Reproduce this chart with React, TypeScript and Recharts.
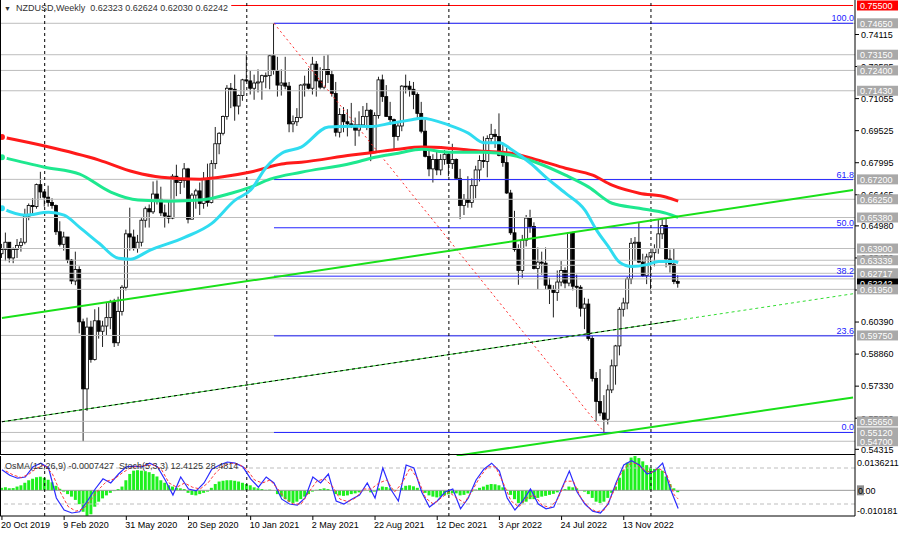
import React from 'react';
import { ComposedChart, Bar, Line, XAxis, YAxis, ReferenceLine } from 'recharts';

const FONT = '"Liberation Sans", Arial, sans-serif';
const CHART_W = 900;
const MAIN_H = 456;
const SUB_H = 79;
const AXIS_W = 45;
const PLOT_RIGHT = CHART_W - AXIS_W;

// weekly bars, the first one opens on Sunday 20 Oct 2019
const FIRST_WEEK = Date.UTC(2019, 9, 20);
const SLOTS = 220;
const MONTHS = ['Jan', 'Feb', 'Mar', 'Apr', 'May', 'Jun', 'Jul', 'Aug', 'Sep', 'Oct', 'Nov', 'Dec'];

const FIRST_OPEN = 0.6365;
const CLOSES = [
  0.6385, 0.6420, 0.6345, 0.6385, 0.6405, 0.6420, 0.6545, 0.6595, 0.6590, 0.6695,
  0.6660, 0.6635, 0.6610, 0.6595, 0.6470, 0.6410, 0.6445, 0.6335, 0.6235, 0.6290,
  0.6040, 0.5720, 0.6015, 0.5860, 0.6045, 0.5995, 0.6020, 0.6060, 0.6135, 0.5940,
  0.6090, 0.6205, 0.6460, 0.6445, 0.6390, 0.6420, 0.6525, 0.6580, 0.6565, 0.6650,
  0.6625, 0.6560, 0.6545, 0.6535, 0.6735, 0.6705, 0.6715, 0.6770, 0.6530, 0.6645,
  0.6665, 0.6605, 0.6720, 0.6610, 0.6795, 0.6890, 0.6940, 0.7020, 0.7155, 0.7150,
  0.7070, 0.7120, 0.7195, 0.7190, 0.7155, 0.7180, 0.7185, 0.7215, 0.7215, 0.7310,
  0.7240, 0.7170, 0.7180, 0.7165, 0.6985, 0.6995, 0.7015, 0.7170, 0.7175, 0.7155,
  0.7270, 0.7190, 0.7160, 0.7245, 0.7220, 0.7130, 0.6945, 0.7030, 0.6995, 0.6985,
  0.6980, 0.6955, 0.6980, 0.7020, 0.7050, 0.6850, 0.7025, 0.7195, 0.7115, 0.7020,
  0.7005, 0.6925, 0.6975, 0.7165, 0.7165, 0.7150, 0.7125, 0.7035, 0.6950, 0.6830,
  0.6770, 0.6815, 0.6765, 0.6815, 0.6840, 0.6795, 0.6815, 0.6725, 0.6595, 0.6625,
  0.6610, 0.6690, 0.6765, 0.6810, 0.6805, 0.6915, 0.6935, 0.6925, 0.6835, 0.6800,
  0.6655, 0.6465, 0.6385, 0.6285, 0.6430, 0.6535, 0.6495, 0.6295, 0.6325, 0.6320,
  0.6215, 0.6195, 0.6180, 0.6230, 0.6285, 0.6225, 0.6465, 0.6210, 0.6205, 0.6105,
  0.6125, 0.5960, 0.5770, 0.5660, 0.5605, 0.5575, 0.5715, 0.5830, 0.5925, 0.6100,
  0.6130, 0.6245, 0.6415, 0.6420, 0.6325, 0.6260, 0.6350, 0.6370, 0.6390, 0.6460,
  0.6500, 0.6340, 0.6315, 0.62323, 0.62242,
];
const HIGHS = [
  0.6412, 0.6466, 0.6420, 0.6395, 0.6435, 0.6440, 0.6580, 0.6605, 0.6630, 0.6700,
  0.6756, 0.6665, 0.6690, 0.6630, 0.6600, 0.6520, 0.6470, 0.6445, 0.6340, 0.6375,
  0.6305, 0.6055, 0.6060, 0.6045, 0.6100, 0.6110, 0.6045, 0.6130, 0.6145, 0.6150,
  0.6160, 0.6215, 0.6480, 0.6585, 0.6480, 0.6455, 0.6535, 0.6590, 0.6600, 0.6710,
  0.6715, 0.6685, 0.6600, 0.6615, 0.6745, 0.6790, 0.6725, 0.6798, 0.6775, 0.6655,
  0.6675, 0.6705, 0.6755, 0.6795, 0.6812, 0.6970, 0.6945, 0.7025, 0.7170, 0.7180,
  0.7220, 0.7125, 0.7200, 0.7315, 0.7240, 0.7220, 0.7245, 0.7220, 0.7230, 0.7315,
  0.7465, 0.7305, 0.7245, 0.7305, 0.7185, 0.7025, 0.7060, 0.7175, 0.7215, 0.7250,
  0.7305, 0.7285, 0.7255, 0.7310, 0.7315, 0.7240, 0.7185, 0.7060, 0.7065, 0.7055,
  0.7085, 0.7015, 0.7045, 0.7070, 0.7085, 0.7055, 0.7040, 0.7210, 0.7220, 0.7170,
  0.7090, 0.7010, 0.6990, 0.7170, 0.7220, 0.7190, 0.7185, 0.7135, 0.7090, 0.7005,
  0.6860, 0.6840, 0.6855, 0.6840, 0.6860, 0.6855, 0.6890, 0.6820, 0.6770, 0.6650,
  0.6735, 0.6725, 0.6785, 0.6835, 0.6925, 0.6930, 0.6985, 0.6960, 0.7035, 0.6885,
  0.6870, 0.6670, 0.6570, 0.6410, 0.6455, 0.6550, 0.6575, 0.6515, 0.6395, 0.6375,
  0.6395, 0.6250, 0.6215, 0.6285, 0.6330, 0.6300, 0.6468, 0.6470, 0.6265, 0.6215,
  0.6155, 0.6150, 0.5975, 0.5800, 0.5815, 0.5690, 0.5740, 0.5860, 0.5930, 0.6110,
  0.6155, 0.6255, 0.6440, 0.6445, 0.6515, 0.6365, 0.6365, 0.6370, 0.6410, 0.6530,
  0.6530, 0.6538, 0.6385, 0.6390, 0.62624,
];
const LOWS = [
  0.6345, 0.6330, 0.6323, 0.6320, 0.6345, 0.6375, 0.6410, 0.6525, 0.6550, 0.6580,
  0.6630, 0.6590, 0.6590, 0.6580, 0.6455, 0.6400, 0.6380, 0.6320, 0.6220, 0.6215,
  0.5985, 0.5470, 0.5615, 0.5845, 0.5855, 0.5960, 0.5920, 0.5975, 0.6005, 0.5920,
  0.5925, 0.6070, 0.6190, 0.6380, 0.6380, 0.6370, 0.6400, 0.6490, 0.6490, 0.6555,
  0.6600, 0.6545, 0.6490, 0.6510, 0.6530, 0.6640, 0.6650, 0.6680, 0.6510, 0.6530,
  0.6580, 0.6550, 0.6580, 0.6590, 0.6605, 0.6770, 0.6840, 0.6930, 0.7005, 0.7060,
  0.7000, 0.7030, 0.7095, 0.7185, 0.7125, 0.7100, 0.7135, 0.7100, 0.7155, 0.7150,
  0.7220, 0.7115, 0.7120, 0.7150, 0.6945, 0.6945, 0.6975, 0.7010, 0.7115, 0.7150,
  0.7125, 0.7115, 0.7150, 0.7150, 0.7180, 0.7115, 0.6925, 0.6920, 0.6945, 0.6925,
  0.6965, 0.6880, 0.6925, 0.6970, 0.6955, 0.6807, 0.6850, 0.7010, 0.7090, 0.7020,
  0.6980, 0.6860, 0.6905, 0.6950, 0.7130, 0.7115, 0.7055, 0.7010, 0.6940, 0.6825,
  0.6735, 0.6705, 0.6740, 0.6740, 0.6790, 0.6735, 0.6770, 0.6720, 0.6530, 0.6550,
  0.6585, 0.6585, 0.6630, 0.6710, 0.6775, 0.6730, 0.6895, 0.6870, 0.6830, 0.6780,
  0.6650, 0.6455, 0.6375, 0.6217, 0.6250, 0.6400, 0.6465, 0.6290, 0.6195, 0.6265,
  0.6195, 0.6125, 0.6061, 0.6140, 0.6210, 0.6200, 0.6210, 0.6190, 0.6110, 0.6065,
  0.6005, 0.5950, 0.5755, 0.5565, 0.5590, 0.5512, 0.5550, 0.5700, 0.5740, 0.5880,
  0.6065, 0.6100, 0.6220, 0.6330, 0.6320, 0.6255, 0.6220, 0.6190, 0.6305, 0.6365,
  0.6435, 0.6300, 0.6275, 0.6220, 0.62030,
];

// moving averages at a few bars: [bar, price]
const MA_CYAN = [
  [0, 0.6582], [6, 0.6549], [12, 0.6563], [16, 0.6549], [20, 0.6491], [25, 0.6415], [30, 0.6343],
  [33, 0.6339], [38, 0.6381], [47, 0.6443], [54, 0.6510], [60, 0.6621], [64, 0.6669], [68, 0.6778],
  [72, 0.6845], [77, 0.6874], [84, 0.6970], [90, 0.6974], [95, 0.6972], [100, 0.6988], [105, 0.7003],
  [108, 0.7012], [115, 0.6979], [120, 0.6941], [124, 0.6895], [128, 0.6895], [131, 0.6864],
  [136, 0.6797], [140, 0.6730], [145, 0.6654], [150, 0.6573], [153, 0.6478], [156, 0.6400],
  [159, 0.6323], [162, 0.6304], [166, 0.6313], [169, 0.6328], [173, 0.6328], [174, 0.6323],
];
const MA_GREEN = [
  [0, 0.6826], [11, 0.6778], [20, 0.6745], [28, 0.6659], [35, 0.6621], [43, 0.6616], [51, 0.6621],
  [59, 0.6654], [64, 0.6683], [69, 0.6721], [77, 0.6754], [90, 0.6797], [96, 0.6826], [102, 0.6845],
  [108, 0.6864], [115, 0.6850], [124, 0.6850], [131, 0.6836], [138, 0.6797], [145, 0.6740],
  [151, 0.6683], [157, 0.6606], [164, 0.6582], [171, 0.6558], [174, 0.6539],
];
const MA_RED = [
  [0, 0.6922], [11, 0.6879], [25, 0.6812], [34, 0.6755], [41, 0.6730], [51, 0.6721], [56, 0.6730],
  [64, 0.6755], [72, 0.6793], [77, 0.6802], [90, 0.6836], [96, 0.6850], [102, 0.6864], [108, 0.6874],
  [115, 0.6869], [123, 0.6855], [131, 0.6845], [138, 0.6812], [145, 0.6773], [152, 0.6740],
  [157, 0.6692], [164, 0.6654], [171, 0.6635], [174, 0.6616],
];

// OsMA(12,26,9) histogram, in thousandths
const OSMA = [
  1.0, 1.2, 0.8, 0.9, 1.5, 2.0, 3.0, 4.0, 4.6, 5.2, 5.4, 5.0, 4.2, 3.2, 1.8, 0.6,
  -0.5, -1.5, -2.5, -3.8, -5.5, -8.5, -10.1, -9.5, -6.5, -4.5, -3.2, -2.0, -1.0, -0.3,
  0.5, 1.5, 4.0, 6.5, 7.8, 8.0, 7.8, 7.6, 7.2, 6.5, 5.5, 4.0, 3.0, 2.0,
  1.5, 1.0, 0.8, 0.5,
  -1.0, -1.8, -2.0, -1.5, -1.0, -0.5,
  1.0, 2.5, 3.5, 3.8, 4.0, 4.0, 3.8, 3.5, 3.0, 2.5, 2.0,
  1.2, 0.8, 0.5, 0.2, 0.3, 0.0,
  -1.5, -2.5, -3.5, -4.5, -5.0, -4.5, -3.5,
  -2.5, -1.5, -0.5, 0.2, 0.5, 0.8, 0.5, 0.0, -1.5, -2.0, -2.2, -2.0, -1.5, -1.2, -0.8, -0.3, 0.0, -0.8, -0.5,
  0.8, 1.5, 1.3, 0.8, 0.2, 0.0, 1.0, 1.8, 2.0, 1.6, 1.0, 0.2,
  -1.0, -2.0, -2.5, -2.8, -2.5, -2.0, -1.6, -1.2, -1.2, -2.0, -1.8, -1.2,
  -0.5, 0.3, 1.0, 1.5, 2.2, 2.5, 2.4, 2.0, 1.2, 0.2,
  -1.8, -3.5, -5.0, -5.2, -4.5, -3.5, -3.5, -3.0, -2.5, -2.2, -1.8, -1.4,
  -0.8, 0.0, 0.5, 1.5, 1.2, 0.8, 0.0, -0.5,
  -1.5, -3.0, -4.5, -5.0, -4.5, -3.0, -1.0,
  1.5, 5.0, 8.0, 11.0, 13.0, 13.6, 12.8, 11.5, 10.0, 9.0, 8.5, 8.5, 7.8, 5.5, 2.5, 0.8, -0.74,
];

// Stoch(5,3,3): [bar, value]
const STOCH_MAIN = [
  [0, 77], [2, 68], [4, 63], [6, 65], [8, 82], [10, 88], [12, 80], [14, 30], [16, 10], [18, 5], [20, 7],
  [22, 25], [24, 45], [26, 62], [28, 55], [30, 70], [32, 82], [34, 83], [36, 82], [38, 88], [40, 82],
  [42, 60], [44, 35], [46, 65], [48, 45], [50, 42], [52, 55], [54, 78], [56, 85], [58, 90], [60, 88],
  [62, 82], [64, 62], [66, 48], [68, 65], [70, 55], [72, 28], [74, 20], [76, 18], [78, 30], [80, 65],
  [82, 55], [84, 70], [86, 25], [88, 20], [90, 28], [92, 35], [94, 55], [96, 30], [98, 80], [100, 45],
  [102, 25], [104, 85], [106, 80], [108, 40], [110, 15], [112, 25], [114, 40], [116, 45], [118, 12],
  [120, 30], [122, 60], [124, 78], [126, 88], [128, 75], [130, 30], [132, 10], [134, 25], [136, 45],
  [138, 20], [140, 12], [142, 15], [144, 45], [146, 75], [148, 40], [150, 20], [152, 8], [154, 5],
  [156, 20], [158, 55], [160, 85], [162, 92], [164, 85], [166, 70], [168, 75], [170, 88], [172, 45],
  [174, 12.41],
];
const STOCH_SIGNAL = [
  [1, 75], [3, 68], [5, 64], [7, 70], [9, 80], [11, 85], [13, 70], [15, 40], [17, 16], [19, 8], [21, 12],
  [23, 28], [25, 45], [27, 58], [29, 62], [31, 72], [33, 80], [35, 83], [37, 84], [39, 85], [41, 78],
  [43, 55], [45, 48], [47, 55], [49, 48], [51, 45], [53, 55], [55, 72], [57, 84], [59, 88], [61, 86],
  [63, 78], [65, 60], [67, 55], [69, 60], [71, 45], [73, 28], [75, 20], [77, 20], [79, 40], [81, 58],
  [83, 62], [85, 50], [87, 28], [89, 24], [91, 30], [93, 45], [95, 45], [97, 55], [99, 60], [101, 40],
  [103, 55], [105, 80], [107, 62], [109, 30], [111, 20], [113, 30], [115, 40], [117, 30], [119, 22],
  [121, 42], [123, 65], [125, 82], [127, 82], [129, 55], [131, 25], [133, 15], [135, 30], [137, 35],
  [139, 18], [141, 14], [143, 28], [145, 58], [147, 58], [149, 30], [151, 14], [153, 7], [155, 10],
  [157, 35], [159, 68], [161, 86], [163, 88], [165, 78], [167, 72], [169, 80], [171, 70], [173, 35],
  [174, 28.48],
];

const DATE_TICKS = [
  '20 Oct 2019', '9 Feb 2020', '31 May 2020', '20 Sep 2020', '10 Jan 2021', '2 May 2021',
  '22 Aug 2021', '12 Dec 2021', '3 Apr 2022', '24 Jul 2022', '13 Nov 2022',
];
const YEAR_SEPARATORS = ['5 Jan 2020', '3 Jan 2021', '2 Jan 2022', '1 Jan 2023'];

const PRICE_TICKS = [
  0.74115, 0.72585, 0.71055, 0.69525, 0.67995, 0.66465, 0.6498, 0.6345, 0.6192, 0.6039, 0.5886,
  0.5733, 0.558, 0.54315,
];
const LEVELS = [
  0.7465, 0.7315, 0.724, 0.7143, 0.672, 0.6625, 0.6538, 0.639, 0.63339, 0.62717, 0.6195, 0.5975,
  0.5565, 0.5512, 0.547,
];
const EXTRA_LEVELS = [0.631, 0.6245];
const TOP_LEVEL = 0.755;
const LAST_PRICE = 0.62242;

const FIBO = [
  ['100.0', 0.7465], ['61.8', 0.6719], ['50.0', 0.6489], ['38.2', 0.6258], ['23.6', 0.5973], ['0.0', 0.5512],
];
const FIBO_FROM = 70;

// trend lines: [fromBar, fromPrice, toBar, toPrice]
const CHANNEL_TOP = [0, 0.6058, 219, 0.6669];
const CHANNEL_MID = [0, 0.5563, 174, 0.6048];
const CHANNEL_MID_EXT = [174, 0.6048, 219, 0.6174];
const CHANNEL_LOW = [117, 0.5401, 219, 0.5679];
const FIBO_DIAGONAL = [70, 0.7465, 155, 0.5512];

const weekLabel = (i: number) => {
  const d = new Date(FIRST_WEEK + i * 7 * 86400000);
  return `${d.getUTCDate()} ${MONTHS[d.getUTCMonth()]} ${d.getUTCFullYear()}`;
};

const rows: any[] = Array.from({ length: SLOTS }, (_, i) => ({ date: weekLabel(i) }));
CLOSES.forEach((c, i) => {
  const open = i === 0 ? FIRST_OPEN : CLOSES[i - 1];
  Object.assign(rows[i], { open, close: c, high: HIGHS[i], low: LOWS[i], range: [LOWS[i], HIGHS[i]], osma: OSMA[i] / 1000 });
});
MA_CYAN.forEach(([i, v]) => (rows[i].cyan = v));
MA_GREEN.forEach(([i, v]) => (rows[i].green = v));
MA_RED.forEach(([i, v]) => (rows[i].red = v));
STOCH_MAIN.forEach(([i, v]) => (rows[i].k = v));
STOCH_SIGNAL.forEach(([i, v]) => (rows[i].d = v));

const seg = (t: number[]) => [
  { x: weekLabel(t[0]), y: t[1] },
  { x: weekLabel(t[2]), y: t[3] },
];

const Candle = (props: any) => {
  const { x, y, width, height, payload } = props;
  if (!payload || payload.high == null || !isFinite(y)) return null;
  const { open, close, high, low } = payload;
  const k = height / (high - low || 1e-9);
  const yOf = (v: number) => y + (high - v) * k;
  const top = yOf(Math.max(open, close));
  const bot = yOf(Math.min(open, close));
  const bull = close >= open;
  const cx = x + width / 2;
  return (
    <g>
      <line x1={cx} x2={cx} y1={y} y2={y + height} stroke="#222" strokeWidth={1} />
      <rect
        x={x}
        y={top}
        width={width}
        height={Math.max(bot - top, 0.8)}
        fill={bull ? '#fff' : '#000'}
        stroke="#000"
        strokeWidth={0.8}
      />
    </g>
  );
};

const PriceTick = ({ y, payload }: any) => {
  const v = payload.value;
  const text = v.toFixed(5);
  let fill = '';
  if (v === TOP_LEVEL) fill = '#ff0000';
  else if (v === LAST_PRICE) fill = '#000';
  else if (LEVELS.includes(v)) fill = '#a9a9a9';
  if (!fill) {
    return (
      <g>
        <line x1={PLOT_RIGHT} x2={PLOT_RIGHT + 4} y1={y} y2={y} stroke="#000" />
        <text x={PLOT_RIGHT + 6} y={y + 3.3} fontSize={9} fontFamily={FONT} fill="#000">
          {text}
        </text>
      </g>
    );
  }
  return (
    <g>
      <rect x={PLOT_RIGHT + 2} y={y - 5} width={41} height={10} fill={fill} />
      <text x={PLOT_RIGHT + 5} y={y + 3.3} fontSize={9} fontFamily={FONT} fill="#fff">
        {text}
      </text>
    </g>
  );
};

const OsmaTick = ({ y, payload }: any) => {
  const v = payload.value;
  if (v === 0) {
    return (
      <g>
        <rect x={PLOT_RIGHT + 2} y={y - 5} width={7} height={10} fill="#8c8c8c" />
        <text x={PLOT_RIGHT + 3} y={y + 3.3} fontSize={9} fontFamily={FONT} fill="#000">0.00</text>
      </g>
    );
  }
  const dy = v > 0 ? 10 : -2;
  return (
    <text x={PLOT_RIGHT + 2} y={y + dy} fontSize={9} fontFamily={FONT} fill="#000">
      {v > 0 ? v.toFixed(7) : v.toFixed(6)}
    </text>
  );
};

const StochTick = ({ y, payload }: any) => (
  <text x={PLOT_RIGHT + 3} y={y + 3.3} fontSize={9} fontFamily={FONT} fill="#000">
    {payload.value}
  </text>
);

const DateTick = ({ x, payload }: any) => (
  <g>
    <line x1={x} x2={x} y1={SUB_H - 19} y2={SUB_H - 15} stroke="#000" />
    <text x={x - 1} y={SUB_H - 7} fontSize={9} fontFamily={FONT} fill="#000">
      {payload.value}
    </text>
  </g>
);

const FiboLine = (label: string) => (props: any) => {
  const { x1, y1, x2 } = props;
  if (!isFinite(y1)) return null;
  return (
    <g>
      <line x1={x1} x2={x2} y1={y1} y2={y1} stroke="#2323ff" strokeWidth={1} />
      <text x={x2 + 1} y={y1 - 2} fontSize={9} fontFamily={FONT} fill="#2323ff" textAnchor="end">
        {label}
      </text>
    </g>
  );
};

export default function App() {
  const yTicks = [...PRICE_TICKS, LAST_PRICE, ...LEVELS, TOP_LEVEL];
  return (
    <div style={{ position: 'relative', width: CHART_W, height: 535, background: '#fff', overflow: 'hidden' }}>
      <style>{'body{margin:0}'}</style>
      <div style={{ position: 'absolute', left: 0, top: 0 }}>
        <ComposedChart width={CHART_W} height={MAIN_H} data={rows} margin={{ top: 0, right: 0, bottom: 0, left: 0 }} barCategoryGap={0}>
          <XAxis dataKey="date" hide />
          <YAxis
            orientation="right"
            width={AXIS_W}
            domain={[0.53996, 0.75762]}
            allowDataOverflow
            type="number"
            ticks={yTicks}
            interval={0}
            tick={<PriceTick />}
            tickLine={false}
            axisLine={{ stroke: '#000' }}
          />
          {LEVELS.concat(EXTRA_LEVELS).map((v) => (
            <ReferenceLine key={`lv-${v}`} y={v} stroke="#bdbdbd" strokeWidth={1} />
          ))}
          {FIBO.map(([label, v]) => (
            <ReferenceLine
              key={`fib-${label}`}
              segment={seg([FIBO_FROM, v as number, SLOTS - 1, v as number])}
              shape={FiboLine(label as string)}
            />
          ))}
          <ReferenceLine segment={seg([59, TOP_LEVEL, SLOTS - 1, TOP_LEVEL])} stroke="#ff0000" strokeWidth={1} />
          {YEAR_SEPARATORS.map((d) => (
            <ReferenceLine key={d} x={d} stroke="#000" strokeDasharray="3 3" strokeWidth={1} />
          ))}
          <ReferenceLine segment={seg(FIBO_DIAGONAL)} stroke="#ff2a2a" strokeDasharray="2 3" strokeWidth={1} />
          <Bar dataKey="range" barSize={3} shape={<Candle />} isAnimationActive={false} />
          <Line dataKey="red" type="monotone" stroke="#ff1a1a" strokeWidth={3} dot={false} connectNulls isAnimationActive={false} />
          <Line dataKey="green" type="monotone" stroke="#1ee88f" strokeWidth={3} dot={false} connectNulls isAnimationActive={false} />
          <Line dataKey="cyan" type="monotone" stroke="#30dcf0" strokeWidth={3} dot={false} connectNulls isAnimationActive={false} />
          <ReferenceLine segment={seg(CHANNEL_TOP)} stroke="#19e019" strokeWidth={2} />
          <ReferenceLine segment={seg(CHANNEL_MID)} stroke="#33cc33" strokeWidth={1} />
          <ReferenceLine segment={seg(CHANNEL_MID)} stroke="#000" strokeWidth={1} strokeDasharray="3 3" />
          <ReferenceLine segment={seg(CHANNEL_MID_EXT)} stroke="#33dd33" strokeWidth={1} strokeDasharray="3 3" />
          <ReferenceLine segment={seg(CHANNEL_LOW)} stroke="#19e019" strokeWidth={2} />
        </ComposedChart>
      </div>
      <div style={{ position: 'absolute', left: 0, top: MAIN_H }}>
        <ComposedChart width={CHART_W} height={SUB_H} data={rows} margin={{ top: 0, right: 0, bottom: 0, left: 0 }} barCategoryGap={0}>
          <XAxis
            dataKey="date"
            height={19}
            ticks={DATE_TICKS}
            interval={0}
            tick={<DateTick />}
            tickLine={false}
            axisLine={{ stroke: '#000' }}
          />
          <YAxis
            yAxisId="osma"
            orientation="right"
            width={AXIS_W}
            type="number"
            domain={[-0.010181, 0.0136211]}
            allowDataOverflow
            ticks={[0.0136211, 0, -0.010181]}
            interval={0}
            tick={<OsmaTick />}
            tickLine={false}
            axisLine={{ stroke: '#000' }}
          />
          <YAxis
            yAxisId="stoch"
            orientation="right"
            width={0}
            type="number"
            domain={[0, 100]}
            ticks={[80, 20]}
            interval={0}
            tick={<StochTick />}
            tickLine={false}
            axisLine={false}
          />
          <ReferenceLine yAxisId="stoch" y={80} stroke="#bdbdbd" strokeDasharray="4 3" />
          <ReferenceLine yAxisId="stoch" y={20} stroke="#bdbdbd" strokeDasharray="4 3" />
          <ReferenceLine yAxisId="osma" y={0} stroke="#9a9a9a" />
          {YEAR_SEPARATORS.map((d) => (
            <ReferenceLine key={d} yAxisId="osma" x={d} stroke="#000" strokeDasharray="3 3" strokeWidth={1} />
          ))}
          <Bar yAxisId="osma" dataKey="osma" barSize={3} fill="#1ef01e" isAnimationActive={false} />
          <Line yAxisId="stoch" dataKey="k" stroke="#2b2bff" strokeWidth={1.2} dot={false} connectNulls isAnimationActive={false} />
          <Line yAxisId="stoch" dataKey="d" stroke="#ff3a3a" strokeWidth={1} strokeDasharray="3 2" dot={false} connectNulls isAnimationActive={false} />
        </ComposedChart>
      </div>
      <div style={{ position: 'absolute', left: 0, top: 0, width: PLOT_RIGHT, height: MAIN_H - 1, borderLeft: '1px solid #000', borderBottom: '1px solid #000', boxSizing: 'border-box', pointerEvents: 'none' }} />
      <div style={{ position: 'absolute', left: 0, top: MAIN_H, width: PLOT_RIGHT, height: 60, borderLeft: '1px solid #000', boxSizing: 'border-box', pointerEvents: 'none' }} />
      <div style={{ position: 'absolute', left: 4, top: 3, fontFamily: FONT, fontSize: 9, color: '#333', whiteSpace: 'pre' }}>
        <span style={{ fontSize: 7 }}>▼</span>{'  NZDUSD,Weekly  0.62323 0.62624 0.62030 0.62242'}
      </div>
      <div style={{ position: 'absolute', left: 5, top: MAIN_H + 5, fontFamily: FONT, fontSize: 9, color: '#333', whiteSpace: 'pre' }}>
        {'OsMA(12,26,9) -0.0007427  Stoch(5,3,3) 12.4125 28.4814'}
      </div>
    </div>
  );
}
